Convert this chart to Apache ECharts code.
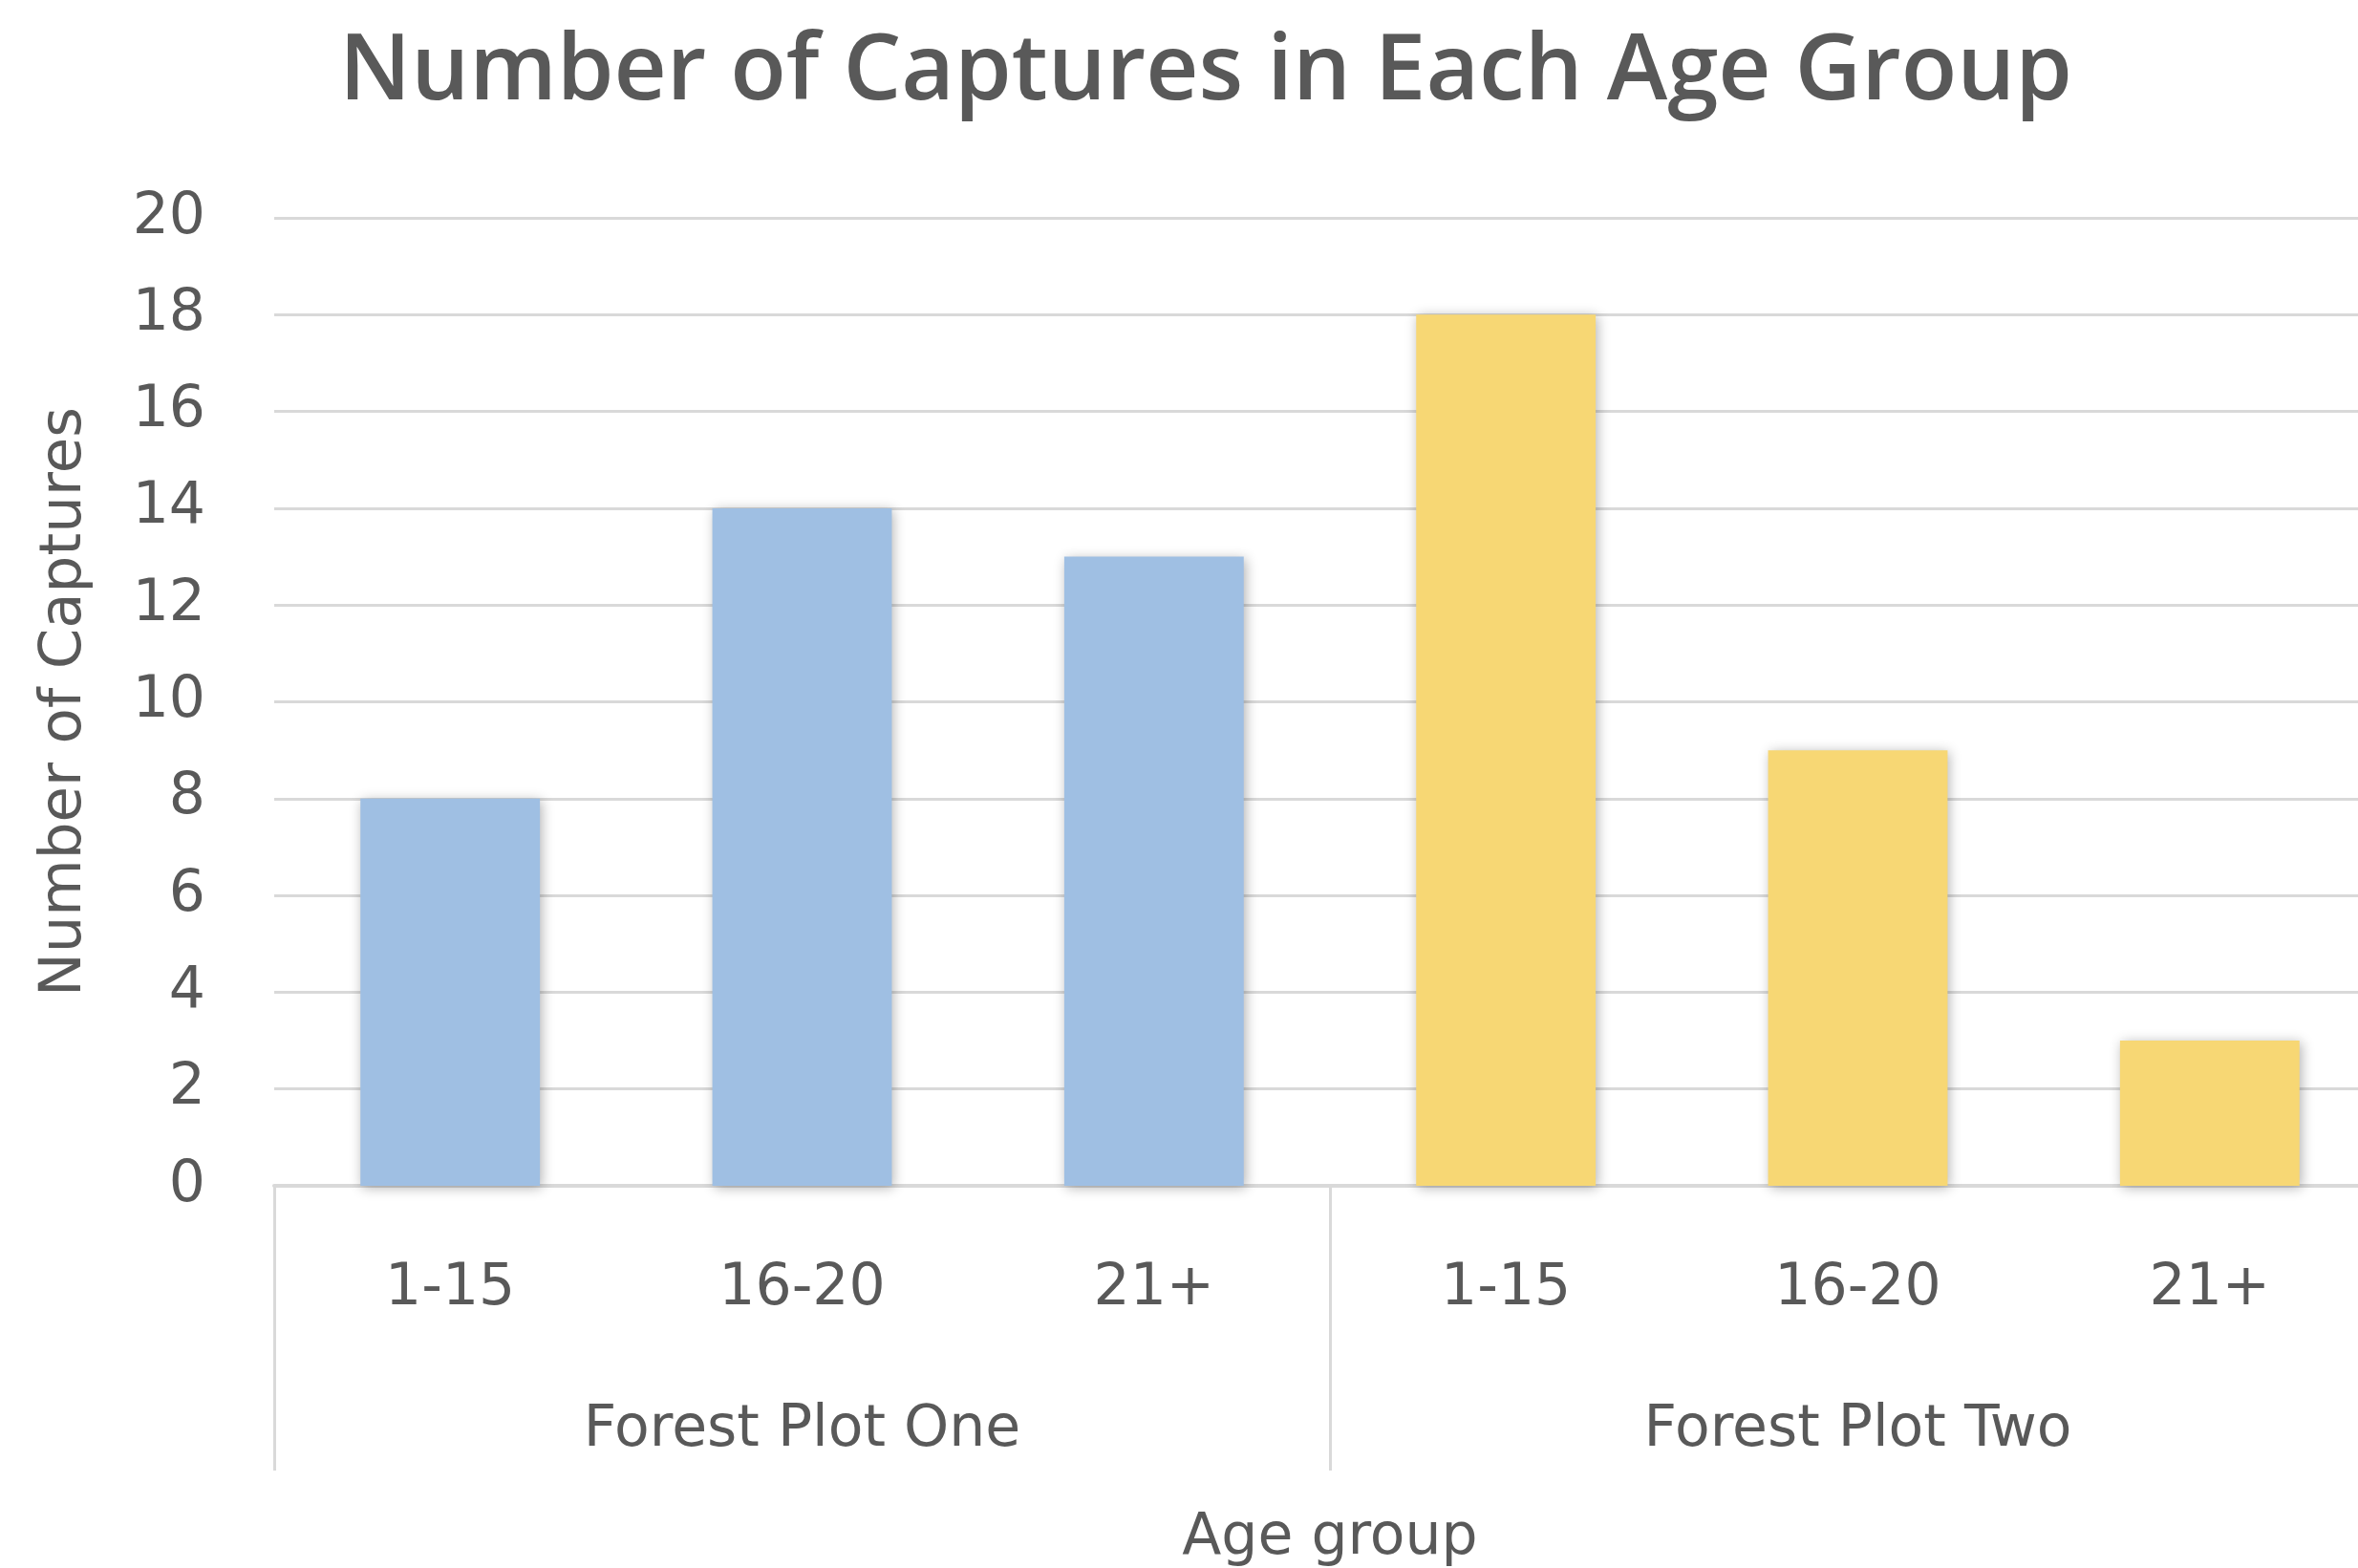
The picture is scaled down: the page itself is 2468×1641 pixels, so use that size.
<!DOCTYPE html>
<html>
<head>
<meta charset="utf-8">
<script src="https://cdn.jsdelivr.net/npm/echarts@6/dist/echarts.min.js"></script>
<style>
  html, body { margin: 0; padding: 0; background: #fff; }
  #chart { width: 2468px; height: 1641px; }
</style>
</head>
<body>
<div id="chart"></div>
<script>
const ageGroups = ['1-15', '16-20', '21+', '1-15', '16-20', '21+'];
const plots = ['Forest Plot One', 'Forest Plot Two'];
const plotOne = [8, 14, 13, '-', '-', '-'];
const plotTwo = ['-', '-', '-', 18, 9, 3];
const yTicks = { min: 0, max: 20, interval: 2 };

const TITLE_FONT = '"Open Sans", "Noto Sans", sans-serif';
const FONT = '"DejaVu Sans", sans-serif';
const TEXT = '#595959';
const LINE = '#d9d9d9';

const barStyle = (color) => ({
  color,
  shadowColor: 'rgba(0,0,0,0.3)',
  shadowBlur: 12,
  shadowOffsetX: 2,
  shadowOffsetY: 2
});

const chart = echarts.init(document.getElementById('chart'));

chart.setOption({
  animation: false,
  backgroundColor: '#fff',
  title: {
    text: 'Number of Captures in Each Age Group',
    left: 1257,
    top: 24,
    textAlign: 'center',
    textStyle: { fontFamily: TITLE_FONT, fontSize: 96, fontWeight: 600, color: TEXT }
  },
  grid: { left: 287, right: -29, top: 228, bottom: 400, outerBoundsMode: 'none' },
  xAxis: [
    {
      type: 'category',
      data: ageGroups,
      position: 'bottom',
      axisLine: { lineStyle: { color: LINE, width: 4 } },
      axisTick: {
        show: true,
        interval: (i) => i % 3 === 0,
        length: 298,
        lineStyle: { color: LINE, width: 3 }
      },
      axisLabel: { fontFamily: FONT, fontSize: 60, color: TEXT, margin: 78 },
      name: 'Age group',
      nameLocation: 'middle',
      nameGap: 339,
      nameTextStyle: { fontFamily: FONT, fontSize: 60, color: TEXT }
    },
    {
      type: 'category',
      data: plots,
      position: 'bottom',
      axisLine: { show: false },
      axisTick: { show: false },
      axisLabel: { fontFamily: FONT, fontSize: 60, color: TEXT, margin: 226 }
    }
  ],
  yAxis: {
    type: 'value',
    min: yTicks.min,
    max: yTicks.max,
    interval: yTicks.interval,
    axisLine: { show: false },
    axisTick: { show: false },
    splitLine: { lineStyle: { color: LINE, width: 3 } },
    axisLabel: { fontFamily: FONT, fontSize: 60, color: TEXT, margin: 72 },
    name: 'Number of Captures',
    nameLocation: 'middle',
    nameGap: 188,
    nameTextStyle: { fontFamily: FONT, fontSize: 61, color: TEXT }
  },
  series: [
    {
      name: 'Forest Plot One',
      type: 'bar',
      stack: 'all',
      data: plotOne,
      barWidth: '51%',
      itemStyle: barStyle('#9fbfe3')
    },
    {
      name: 'Forest Plot Two',
      type: 'bar',
      stack: 'all',
      data: plotTwo,
      barWidth: '51%',
      itemStyle: barStyle('#f7d774')
    }
  ]
});
</script>
</body>
</html>
